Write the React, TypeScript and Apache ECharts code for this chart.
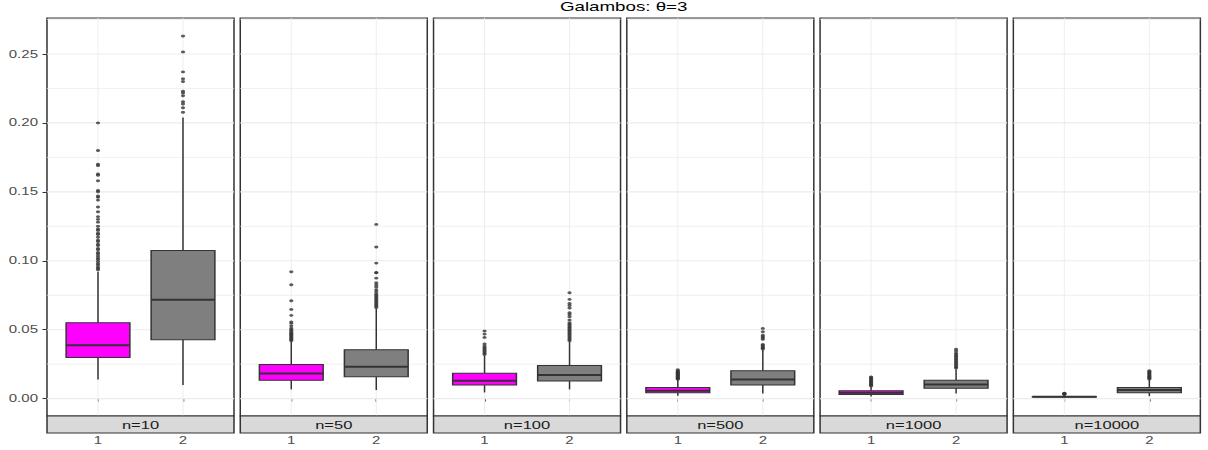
import React, { useEffect, useRef } from "react";
import * as echarts from "echarts";

// ---------------- data ----------------
const title = "Galambos: θ=3";
const panels = ["n=10", "n=50", "n=100", "n=500", "n=1000", "n=10000"];
const xTicks = [1, 2];
const yTicks = [0, 0.05, 0.1, 0.15, 0.2, 0.25];
const yMinor = [0.025, 0.075, 0.125, 0.175, 0.225, 0.275];

// [lower whisker, Q1, median, Q3, upper whisker]
const box1 = [
  [0.0139, 0.0299, 0.0388, 0.055, 0.092],
  [0.0067, 0.0134, 0.0183, 0.0248, 0.0412],
  [0.0045, 0.0098, 0.0129, 0.0185, 0.0312],
  [0.002, 0.0042, 0.0057, 0.0081, 0.0136],
  [0.0016, 0.003, 0.0042, 0.0057, 0.0088],
  [0.0005, 0.0011, 0.0013, 0.0016, 0.0024],
];
const box2 = [
  [0.0098, 0.0427, 0.0717, 0.1075, 0.204],
  [0.0062, 0.0158, 0.0231, 0.0354, 0.065],
  [0.0067, 0.0127, 0.0171, 0.0241, 0.0412],
  [0.0038, 0.0098, 0.0139, 0.0202, 0.0354],
  [0.0038, 0.0076, 0.0103, 0.0134, 0.0214],
  [0.0018, 0.0042, 0.0062, 0.0081, 0.0136],
];
const out1 = [
  [0.0935, 0.0945, 0.0955, 0.097, 0.098, 0.0995, 0.101, 0.102, 0.1035, 0.105, 0.106, 0.108, 0.109, 0.111, 0.112, 0.114, 0.115, 0.117, 0.119, 0.12, 0.122, 0.123, 0.125, 0.128, 0.13, 0.132, 0.1355, 0.139, 0.144, 0.146, 0.147, 0.15, 0.151, 0.158, 0.162, 0.163, 0.169, 0.17, 0.18, 0.2],
  [0.042, 0.0428, 0.0435, 0.0442, 0.045, 0.0458, 0.0465, 0.0472, 0.048, 0.049, 0.05, 0.051, 0.0528, 0.0546, 0.0557, 0.0604, 0.0647, 0.071, 0.0826, 0.092],
  [0.032, 0.033, 0.034, 0.035, 0.036, 0.037, 0.038, 0.0396, 0.0444, 0.0468, 0.049],
  [0.0141, 0.0146, 0.015, 0.0155, 0.016, 0.0165, 0.017, 0.0175, 0.018, 0.0185, 0.019, 0.0195, 0.02, 0.021],
  [0.0092, 0.0098, 0.0105, 0.011, 0.0118, 0.0125, 0.013, 0.0138, 0.0145, 0.0152, 0.0158],
  [0.003, 0.0033, 0.0036, 0.0038, 0.004],
];
const out2 = [
  [0.2077, 0.211, 0.2137, 0.2154, 0.2197, 0.2217, 0.223, 0.23, 0.232, 0.237, 0.2515, 0.263],
  [0.066, 0.067, 0.068, 0.069, 0.07, 0.071, 0.072, 0.073, 0.074, 0.075, 0.076, 0.0775, 0.079, 0.081, 0.0825, 0.084, 0.0874, 0.0912, 0.0916, 0.0983, 0.11, 0.1264],
  [0.042, 0.043, 0.044, 0.045, 0.046, 0.047, 0.048, 0.049, 0.05, 0.051, 0.052, 0.053, 0.054, 0.055, 0.057, 0.0594, 0.061, 0.0623, 0.0657, 0.0675, 0.069, 0.072, 0.0768],
  [0.036, 0.0368, 0.0375, 0.0385, 0.0393, 0.043, 0.044, 0.045, 0.046, 0.0485, 0.0509],
  [0.0222, 0.023, 0.024, 0.025, 0.026, 0.027, 0.028, 0.029, 0.03, 0.031, 0.032, 0.033, 0.0345, 0.0359],
  [0.0142, 0.0148, 0.0155, 0.016, 0.0168, 0.0175, 0.0182, 0.019, 0.0196, 0.0202],
];

// ---------------- layout ----------------
const W = 805; // drawn width, stretched horizontally to 1208 px
const S = 1208 / W;
const PANEL_LEFT = 47;
const PANEL_STEP = 193.27;
const PANEL_W = 187;
const PANEL_TOP = 18;
const PANEL_BOTTOM = 416;
const STRIP_H = 17;
const Y_MIN = -0.0126;
const Y_MAX = 0.2761;
const X_MIN = 0.4;
const X_MAX = 2.6;
const BOX_HALF = 0.375;
const FONT = '"Liberation Sans", Arial, Helvetica, sans-serif';
const FILLS = ["#FF00FF", "#7F7F7F"];
const DARK = "#333333";
const GRIDC = "#EBEBEB";

function hLine(width: number) {
  return (params: any, api: any) => {
    const v = api.value(0);
    const a = api.coord([X_MIN, v]);
    const b = api.coord([X_MAX, v]);
    return {
      type: "line",
      shape: { x1: a[0], y1: a[1], x2: b[0], y2: b[1] },
      style: { stroke: GRIDC, lineWidth: width },
    };
  };
}

function vLine(params: any, api: any) {
  const v = api.value(0);
  const a = api.coord([v, Y_MIN]);
  const b = api.coord([v, Y_MAX]);
  return {
    type: "line",
    shape: { x1: a[0], y1: a[1], x2: b[0], y2: b[1] },
    style: { stroke: GRIDC, lineWidth: 1 / S },
  };
}

function boxItem(params: any, api: any) {
  const x = api.value(0);
  const lo = api.coord([x, api.value(1)]);
  const q1 = api.coord([x, api.value(2)]);
  const med = api.coord([x, api.value(3)]);
  const q3 = api.coord([x, api.value(4)]);
  const hi = api.coord([x, api.value(5)]);
  const xl = api.coord([x - BOX_HALF, 0])[0];
  const xr = api.coord([x + BOX_HALF, 0])[0];
  const fill = FILLS[params.dataIndex % 2];
  const wl = 1.0;
  return {
    type: "group",
    children: [
      { type: "line", shape: { x1: lo[0], y1: lo[1], x2: lo[0], y2: q1[1] }, style: { stroke: DARK, lineWidth: wl } },
      { type: "line", shape: { x1: hi[0], y1: q3[1], x2: hi[0], y2: hi[1] }, style: { stroke: DARK, lineWidth: wl } },
      {
        type: "rect",
        shape: { x: xl, y: q3[1], width: xr - xl, height: q1[1] - q3[1] },
        style: { fill, stroke: DARK, lineWidth: 1 },
      },
      { type: "line", shape: { x1: xl, y1: med[1], x2: xr, y2: med[1] }, style: { stroke: DARK, lineWidth: 2 } },
    ],
  };
}

function buildOption() {
  const grid: any[] = [];
  const xAxis: any[] = [];
  const yAxis: any[] = [];
  const series: any[] = [];
  const graphic: any[] = [];

  panels.forEach((name, i) => {
    const left = (PANEL_LEFT + i * PANEL_STEP) / S;
    const w = PANEL_W / S;
    grid.push({
      left,
      top: PANEL_TOP,
      width: w,
      height: PANEL_BOTTOM - PANEL_TOP,
      show: true,
      backgroundColor: "#FFFFFF",
      borderColor: DARK,
      borderWidth: 1,
    });
    xAxis.push({
      type: "value",
      gridIndex: i,
      min: X_MIN,
      max: X_MAX,
      offset: STRIP_H,
      axisLine: { show: false },
      axisTick: { show: true, length: 3, customValues: xTicks, lineStyle: { color: DARK, width: 1 / S } },
      axisLabel: {
        show: true,
        customValues: xTicks,
        margin: 2,
        color: "#4D4D4D",
        fontSize: 10,
        fontFamily: FONT,
        formatter: (v: number) => String(v),
      },
      splitLine: { show: false },
    });
    yAxis.push({
      type: "value",
      gridIndex: i,
      min: Y_MIN,
      max: Y_MAX,
      axisLine: { show: false },
      axisTick: { show: i === 0, length: 3, customValues: yTicks, lineStyle: { color: DARK, width: 1 } },
      axisLabel: {
        show: i === 0,
        customValues: yTicks,
        margin: 6,
        color: "#4D4D4D",
        fontSize: 10,
        fontFamily: FONT,
        formatter: (v: number) => v.toFixed(2),
      },
      splitLine: { show: false },
    });

    series.push({
      type: "custom",
      xAxisIndex: i,
      yAxisIndex: i,
      z: 1,
      silent: true,
      renderItem: hLine(0.6),
      data: yMinor.map((v) => [v]),
    });
    series.push({
      type: "custom",
      xAxisIndex: i,
      yAxisIndex: i,
      z: 1,
      silent: true,
      renderItem: hLine(1.1),
      data: yTicks.map((v) => [v]),
    });
    series.push({
      type: "custom",
      xAxisIndex: i,
      yAxisIndex: i,
      z: 1,
      silent: true,
      renderItem: vLine,
      encode: { x: 0 },
      data: xTicks.map((v) => [v]),
    });
    series.push({
      type: "custom",
      xAxisIndex: i,
      yAxisIndex: i,
      z: 3,
      renderItem: boxItem,
      encode: { x: 0, y: [1, 2, 3, 4, 5] },
      data: [
        [xTicks[0], ...box1[i]],
        [xTicks[1], ...box2[i]],
      ],
    });
    series.push({
      type: "scatter",
      xAxisIndex: i,
      yAxisIndex: i,
      z: 4,
      symbol: "circle",
      symbolSize: 2.8,
      itemStyle: { color: DARK },
      data: out1[i].map((v) => [xTicks[0], v]).concat(out2[i].map((v) => [xTicks[1], v])),
    });

    graphic.push({
      type: "rect",
      z: 10,
      shape: { x: left, y: PANEL_BOTTOM, width: w, height: STRIP_H },
      style: { fill: "#D9D9D9", stroke: DARK, lineWidth: 1 },
    });
    graphic.push({
      type: "text",
      z: 11,
      x: left + w / 2,
      y: PANEL_BOTTOM + STRIP_H / 2 + 0.5,
      style: {
        text: name,
        fill: "#1A1A1A",
        font: `11px ${FONT}`,
        align: "center",
        verticalAlign: "middle",
        textAlign: "center",
        textVerticalAlign: "middle",
      },
    });
  });

  graphic.push({
    type: "text",
    z: 11,
    x: (PANEL_LEFT + 5 * PANEL_STEP + PANEL_W + PANEL_LEFT) / 2 / S,
    y: 7,
    style: {
      text: title,
      fill: "#000000",
      font: `12.5px ${FONT}`,
      align: "center",
      verticalAlign: "middle",
      textAlign: "center",
      textVerticalAlign: "middle",
    },
  });

  return {
    animation: false,
    backgroundColor: "#FFFFFF",
    grid,
    xAxis,
    yAxis,
    series,
    graphic,
  };
}

export default function App() {
  const ref = useRef<HTMLDivElement>(null);
  useEffect(() => {
    if (!ref.current) return;
    const chart = echarts.init(ref.current, null, { renderer: "svg" });
    chart.setOption(buildOption() as any);
    return () => chart.dispose();
  }, []);
  return (
    <div
      ref={ref}
      style={{
        position: "absolute",
        left: 0,
        top: 0,
        width: W,
        height: 450,
        transform: `scaleX(${S})`,
        transformOrigin: "0 0",
      }}
    />
  );
}
